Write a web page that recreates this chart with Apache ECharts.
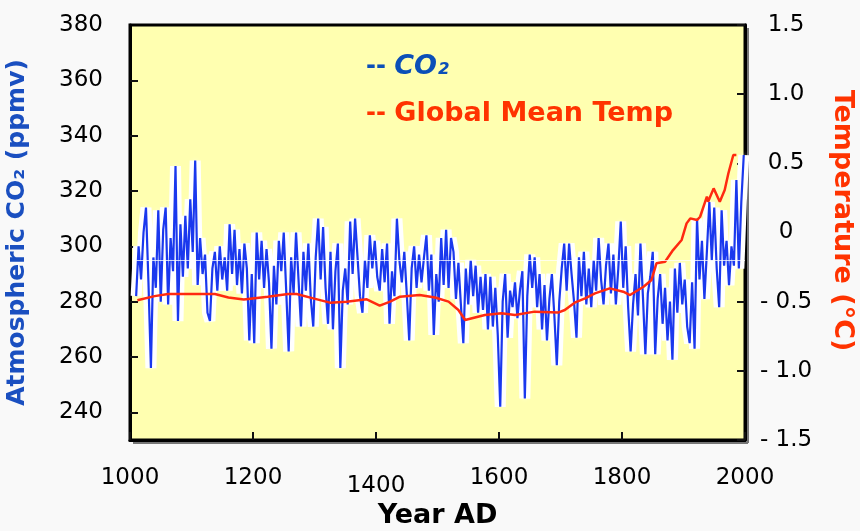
<!DOCTYPE html>
<html>
<head>
<meta charset="utf-8">
<script src="https://cdn.jsdelivr.net/npm/echarts@6/dist/echarts.min.js"></script>
<style>
html,body{margin:0;padding:0;background:#f9f9f9;}
#wrap{position:relative;width:860px;height:531px;}
#plotbg{position:absolute;left:130px;top:25px;width:615px;height:415px;background:#ffffb0;}
#chart{position:absolute;left:0;top:0;width:860px;height:531px;}
</style>
</head>
<body>
<div id="wrap"><div id="plotbg"></div><div id="chart"></div></div>
<script>
// ---- Data ----
const co2StartYear = 1010;
const co2Step = 4;
const co2Values = [
  282,300,288,305,314,287,256,296,285,313,280,306,314,279,303,291,329,273,308,289,311,292,317,298,331,
  286,303,290,297,276,273,292,298,284,300,288,296,284,308,290,306,286,299,283,301,292,266,290,265,305,
  288,302,285,299,287,263,293,279,302,291,305,284,262,296,283,305,288,271,298,284,301,281,271,296,310,
  288,307,285,272,298,270,291,301,256,284,292,279,309,290,310,296,282,276,295,285,304,292,302,289,284,
  299,287,301,272,291,282,310,295,287,298,283,266,292,300,285,297,287,296,304,284,297,268,290,280,303,
  286,306,285,303,298,281,294,279,265,292,279,295,282,293,276,289,277,290,270,289,271,285,268,242,280,
  290,267,284,278,287,274,284,291,245,282,297,285,296,278,290,270,286,266,281,290,275,257,280,292,301,
  284,301,290,280,267,296,282,298,279,292,278,295,284,303,288,279,293,301,283,297,279,292,309,285,300,
  278,262,279,290,275,301,282,261,283,289,298,261,281,290,272,285,266,280,259,292,276,294,279,288,271,
  265,287,263,310,288,302,281,298,316,295,314,292,278,313,293,302,286,300,293,324,292,316,333
];
const tempYears = [1012,1040,1062,1100,1138,1160,1185,1224,1257,1271,1298,1325,1352,1385,1406,1423,1439,1471,1496,1518,1534,1545,1577,1604,1626,1658,1696,1707,1723,1740,1756,1780,1802,1813,1835,1848,1856,1870,1883,1897,1905,1911,1922,1927,1938,1940,1949,1959,1967,1973,1981,1986];
const tempValues = [-0.49,-0.46,-0.445,-0.445,-0.445,-0.47,-0.485,-0.464,-0.445,-0.445,-0.476,-0.507,-0.50,-0.483,-0.529,-0.50,-0.464,-0.452,-0.47,-0.50,-0.56,-0.633,-0.596,-0.584,-0.596,-0.572,-0.579,-0.56,-0.507,-0.476,-0.44,-0.404,-0.428,-0.452,-0.392,-0.343,-0.223,-0.211,-0.127,-0.054,0.066,0.102,0.09,0.114,0.259,0.223,0.319,0.223,0.307,0.428,0.56,0.56];
const co2LabelValues = [240,260,280,300,320,340,360,380];
const co2TickValues = [240,260,280,300,320,340,360];
const refLineValue = 295;
const refLineYears = [1010, 2000];

// ---- Build ----
const co2Data = co2Values.map((v, i) => [co2StartYear + i * co2Step, v]);
const co2HaloData = co2Values.map((v, i) => [co2StartYear + i * co2Step, v]);
const tempData = tempYears.map((y, i) => [y, tempValues[i]]);

const FONT = 'DejaVu Sans';
const BLUE = '#1a38ee';
const AXBLUE = '#1a4fc0';
const RED = '#ff2a10';
const mkTick = () => ({show: true, inside: true, length: 8, lineStyle: {color: '#111111', width: 2}});
const G = {left: 130, right: 115, top: 25, bottom: 91};
const W = 860, H = 531;

const chart = echarts.init(document.getElementById('chart'), null, {renderer: 'canvas'});
chart.setOption({
  animation: false,
  grid: {
    left: G.left, right: G.right, top: G.top, bottom: G.bottom, outerBoundsMode: 'none',
    show: true, backgroundColor: 'transparent',
    borderColor: '#000', borderWidth: 3
  },
  graphic: [
    {type: 'line', silent: true,
     shape: {x1: G.left + 3, y1: H - G.bottom + 3, x2: W - G.right + 3, y2: H - G.bottom + 3},
     style: {stroke: '#777', lineWidth: 2}},
    {type: 'line', silent: true,
     shape: {x1: W - G.right + 3, y1: G.top + 3, x2: W - G.right + 3, y2: H - G.bottom + 3},
     style: {stroke: '#777', lineWidth: 2}}
  ],
  legend: {
    orient: 'vertical', left: 356, top: 48, itemGap: 20,
    icon: 'none', itemWidth: 0, itemHeight: 0,
    selectedMode: false,
    data: ['CO2', 'Global Mean Temp', 'CO2 halo'],
    formatter: function (name) {
      if (name === 'CO2') return '{db|-- }{co|CO₂}';
      if (name === 'Global Mean Temp') return '{dr|-- }{gt|Global Mean Temp}';
      return '';
    },
    textStyle: {
      fontFamily: FONT,
      rich: {
        db: {color: '#0b4fb8', fontSize: 24, fontWeight: 'bold', fontFamily: FONT},
        co: {color: '#0b4fb8', fontSize: 27, fontWeight: 'bold', fontStyle: 'italic', fontFamily: FONT},
        dr: {color: '#ff3300', fontSize: 24, fontWeight: 'bold', fontFamily: FONT},
        gt: {color: '#ff3300', fontSize: 27, fontWeight: 'bold', fontFamily: FONT}
      }
    }
  },
  xAxis: {
    type: 'value', min: 1000, max: 2000, interval: 200,
    name: 'Year AD', nameLocation: 'middle', nameGap: 61,
    nameTextStyle: {fontSize: 27, fontWeight: 'bold', color: '#000', fontFamily: FONT},
    axisLine: {show: true, onZero: false, lineStyle: {color: '#000', width: 3}},
    axisTick: mkTick(),
    splitLine: {show: false},
    axisLabel: {
      margin: 27, fontSize: 23, color: '#000', fontFamily: FONT,
      formatter: v => v === 1400 ? '{low|1400}' : String(v),
      rich: {low: {fontSize: 23, color: '#000', fontFamily: FONT, padding: [8, 0, 0, 0]}}
    }
  },
  yAxis: [
    {
      type: 'value', min: 230, max: 380, position: 'left',
      name: 'Atmospheric CO₂ (ppmv)', nameLocation: 'middle', nameGap: 100, nameRotate: 90,
      nameTextStyle: {fontSize: 25, fontWeight: 'bold', color: AXBLUE, fontFamily: FONT},
      axisLine: {show: true, onZero: false, lineStyle: {color: '#000', width: 3}},
      axisTick: Object.assign(mkTick(), {customValues: co2TickValues}),
      splitLine: {show: false},
      axisLabel: {margin: 27, fontSize: 23, color: '#000', fontFamily: FONT, customValues: co2LabelValues}
    },
    {
      type: 'value', min: -1.5, max: 1.5, interval: 0.5, position: 'right',
      name: 'Temperature (°C)', nameLocation: 'middle', nameGap: 84, nameRotate: -90,
      nameTextStyle: {fontSize: 27, fontWeight: 'bold', color: '#ff3300', fontFamily: FONT, padding: [0, 24, 0, 0]},
      axisLine: {show: true, onZero: false, lineStyle: {color: '#000', width: 3}},
      axisTick: mkTick(),
      splitLine: {show: false},
      axisLabel: {
        margin: 41, align: 'center', fontSize: 23, color: '#000', fontFamily: FONT,
        formatter: v => Math.abs(v) < 1e-9 ? '0' : (v < 0 ? '- ' + Math.abs(v).toFixed(1) : v.toFixed(1))
      }
    }
  ],
  series: [
    {
      name: 'CO2 halo', type: 'line', yAxisIndex: 0, data: co2HaloData,
      showSymbol: false, z: 2, color: '#ffffff',
      lineStyle: {color: '#ffffff', width: 11}
    },
    {
      name: 'CO2', type: 'line', yAxisIndex: 0, data: co2Data,
      showSymbol: false, z: 3, color: BLUE,
      lineStyle: {color: BLUE, width: 2.2, shadowColor: 'rgba(255,255,255,0.95)', shadowBlur: 5},
      markLine: {
        silent: true, symbol: 'none', label: {show: false},
        lineStyle: {color: 'rgba(255,255,255,0.75)', width: 1, type: 'solid'},
        data: [[{coord: [refLineYears[0], refLineValue]}, {coord: [refLineYears[1], refLineValue]}]]
      }
    },
    {
      name: 'Global Mean Temp', type: 'line', yAxisIndex: 1, data: tempData,
      showSymbol: false, z: 4, color: RED,
      lineStyle: {color: RED, width: 2.5}
    }
  ]
});
</script>
</body>
</html>
